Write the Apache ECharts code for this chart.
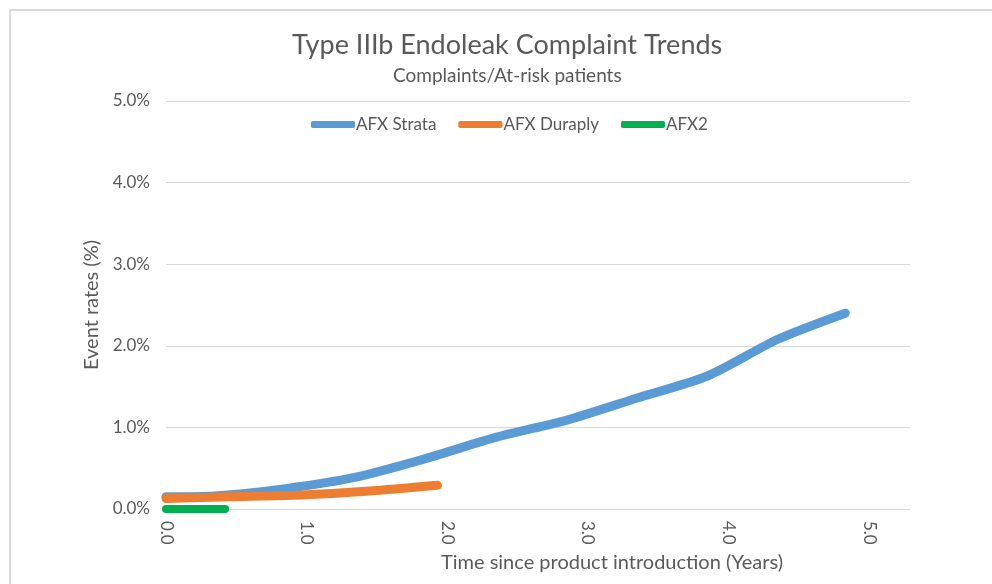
<!DOCTYPE html>
<html>
<head>
	<meta charset="utf-8">
	<title>Type IIIb Endoleak Complaint Trends</title>
	<style type="text/css">
		body{
			margin: 0px;
			background: #fff;
		}
		.chart{
			width: 992px;
			height: 584px;
		}
	</style>
	<script type="text/javascript" src="https://cdn.jsdelivr.net/npm/echarts@6/dist/echarts.min.js"></script>
</head>
<body>
	<div id="chart" class="chart"></div>
	<script type="text/javascript">
		// years since introduction, event rate (%)
		var strataYears = [0, 0.35, 0.85, 1.35, 1.85, 2.35, 2.85, 3.35, 3.85, 4.35, 4.83];
		var strataRates = [0.15, 0.16, 0.25, 0.39, 0.62, 0.88, 1.09, 1.36, 1.63, 2.08, 2.40];
		var duraplyYears = [0, 0.45, 0.95, 1.45, 1.93];
		var duraplyRates = [0.13, 0.15, 0.17, 0.22, 0.29];
		var afx2Years = [0, 0.42];
		var afx2Rates = [0, 0];
		var seriesNames = ['AFX Strata', 'AFX Duraply', 'AFX2'];

		function pairs(xs, ys){
			var out = [];
			for(var i = 0; i < xs.length; i++){
				out.push([xs[i], ys[i]]);
			}
			return out;
		}

		var font = 'Lato, "Open Sans", sans-serif';
		var grey = '#595959';
		var chart = echarts.init(document.getElementById('chart'));
		chart.setOption({
			backgroundColor: '#fff',
			animation: false,
			color: ['#5B9BD5', '#ED7D31', '#00B050'],
			title: [{
				text: 'Type IIIb Endoleak Complaint Trends',
				left: 287,
				top: 27,
				textStyle: {
					fontFamily: font,
					fontSize: 27,
					fontWeight: 'normal',
					color: grey
				}
			}, {
				text: 'Complaints/At-risk patients',
				left: 388,
				top: 61,
				textStyle: {
					fontFamily: font,
					fontSize: 19,
					fontWeight: 'normal',
					color: grey
				}
			}],
			legend: {
				data: seriesNames,
				left: 306,
				top: 111,
				icon: 'roundRect',
				itemWidth: 44,
				itemHeight: 7,
				itemGap: 22,
				textStyle: {
					fontFamily: font,
					fontSize: 17,
					color: grey,
					padding: [0, 0, 0, -4]
				}
			},
			grid: {
				left: 166,
				right: 82,
				top: 101,
				bottom: 75
			},
			xAxis: {
				type: 'value',
				min: 0,
				max: 5.29,
				interval: 1,
				name: 'Time since product introduction (Years)',
				nameLocation: 'middle',
				nameGap: 38,
				nameTextStyle: {
					fontFamily: font,
					fontSize: 20,
					color: grey,
					padding: [0, 0, 0, 148]
				},
				axisLine: {show: false},
				axisTick: {show: false},
				splitLine: {show: false},
				axisLabel: {
					rotate: -90,
					margin: 12,
					showMaxLabel: false,
					fontFamily: font,
					fontSize: 17,
					color: grey,
					formatter: function(v){ return v.toFixed(1); }
				}
			},
			yAxis: {
				type: 'value',
				min: 0,
				max: 5,
				interval: 1,
				name: 'Event rates (%)',
				nameLocation: 'middle',
				nameGap: 63,
				nameTextStyle: {
					fontFamily: font,
					fontSize: 20,
					color: grey
				},
				axisLine: {show: false},
				axisTick: {show: false},
				splitLine: {
					lineStyle: {color: '#d9d9d9', width: 1}
				},
				axisLabel: {
					margin: 16,
					fontFamily: font,
					fontSize: 17,
					color: grey,
					formatter: function(v){ return v.toFixed(1) + '%'; }
				}
			},
			graphic: [{
				type: 'line',
				shape: {x1: 9, y1: 10, x2: 992, y2: 10},
				style: {stroke: '#d9d9d9', lineWidth: 2}
			}, {
				type: 'line',
				shape: {x1: 10, y1: 9, x2: 10, y2: 584},
				style: {stroke: '#d9d9d9', lineWidth: 2}
			}],
			series: [{
				name: seriesNames[0],
				type: 'line',
				smooth: 0.25,
				showSymbol: false,
				data: pairs(strataYears, strataRates),
				lineStyle: {width: 9, cap: 'round', join: 'round'}
			}, {
				name: seriesNames[1],
				type: 'line',
				smooth: 0.25,
				showSymbol: false,
				data: pairs(duraplyYears, duraplyRates),
				lineStyle: {width: 9, cap: 'round', join: 'round'}
			}, {
				name: seriesNames[2],
				type: 'line',
				showSymbol: false,
				data: pairs(afx2Years, afx2Rates),
				lineStyle: {width: 8, cap: 'round'}
			}]
		});
	</script>
</body>
</html>
